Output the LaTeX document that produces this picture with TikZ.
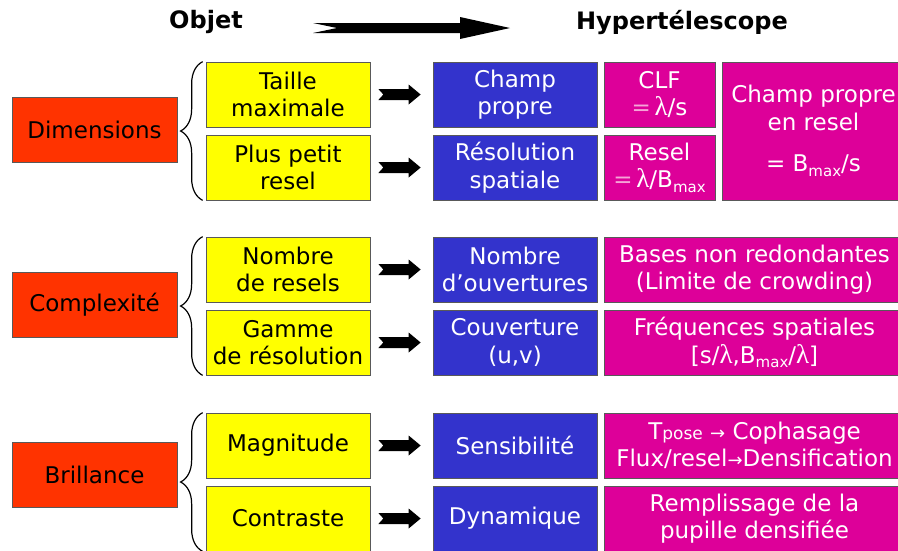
\documentclass[tikz,border=0pt]{standalone}
\usepackage{fontspec}
\setmainfont{DejaVu Sans}
\newfontfamily\lamfont{Liberation Serif}
\usetikzlibrary{decorations.pathreplacing,calc}
\definecolor{cred}{RGB}{255,51,0}
\definecolor{cyel}{RGB}{255,255,0}
\definecolor{cblue}{RGB}{51,51,204}
\definecolor{cmag}{RGB}{221,0,153}
\definecolor{cpale}{RGB}{245,165,215}
\newcommand\lam{{\lamfont\fontsize{27}{27}\selectfont λ}}
\newcommand\sbx[1]{\raisebox{-0.35ex}{\fontsize{15}{15}\selectfont #1}}
\newcommand\smallfont{\fontsize{18}{18}\selectfont}
% #1 start, #2 end, #3 half shaft, #4 half head, #5 head length, #6 notch
\newcommand\blockarrow[6]{%
  \fill let \p1=#1, \p2=#2 in
    (\x1,\y1+#3) -- (\x2-#5,\y1+#3) -- (\x2-#5,\y1+#4) -- (\x2,\y1)
    -- (\x2-#5,\y1-#4) -- (\x2-#5,\y1-#3) -- (\x1,\y1-#3) -- (\x1+#6,\y1) -- cycle;}
\begin{document}
\begin{tikzpicture}[x=1pt,y=-1pt,
  box/.style={draw=black!65, line width=0.7pt, minimum height=65pt, align=center,
    inner sep=0pt, font=\fontsize{23}{27.5}\selectfont},
  redbox/.style={box, fill=cred, minimum width=165pt},
  yelbox/.style={box, fill=cyel, minimum width=164pt},
  bluebox/.style={box, fill=cblue, text=white, minimum width=164pt},
  magbox/.style={box, fill=cmag, text=white},
  title/.style={font=\fontsize{24}{28}\selectfont\bfseries},
  brc/.style={decorate, decoration={brace, amplitude=22pt}, line width=1.2pt}]
\useasboundingbox (0,0) rectangle (898,550);
\clip (0,0) rectangle (898,550);
\fill[white] (0,0) rectangle (898,550);

% titles
\node[title] (tobj) at (206,22) {Objet};
\node[title] (thyp) at (682,22) {Hypertélescope};
\coordinate (ta) at (313,28);
\coordinate (tb) at (510,28);
\blockarrow{(ta)}{(tb)}{5pt}{11pt}{50pt}{24pt}

% red boxes
\node[redbox] (r1) at (94.5,129.5) {Dimensions};
\node[redbox] (r2) at (94.5,305) {Complexité};
\node[redbox] (r3) at (94.5,475) {Brillance};

% yellow boxes
\node[yelbox] (y1) at (288,94.5) {Taille\\maximale};
\node[yelbox] (y2) at (288,167.5) {Plus petit\\resel};
\node[yelbox] (y3) at (288,269.5) {Nombre\\de resels};
\node[yelbox] (y4) at (288,342.5) {Gamme\\de résolution};
\node[yelbox] (y5) at (288,445.5) {Magnitude};
\node[yelbox] (y6) at (288,518.5) {Contraste};

% blue boxes
\node[bluebox] (b1) at (515,94.5) {Champ\\propre};
\node[bluebox] (b2) at (515,167.5) {Résolution\\spatiale};
\node[bluebox] (b3) at (515,269.5) {Nombre\\d’ouvertures};
\node[bluebox] (b4) at (515,342.5) {Couverture\\(u,v)};
\node[bluebox] (b5) at (515,445.5) {Sensibilité};
\node[bluebox] (b6) at (515,518.5) {Dynamique};

% magenta boxes
\node[magbox, minimum width=111pt] (m1) at (659.5,94.5) {CLF\\{\color{cpale}=}\,\lam/s};
\node[magbox, minimum width=111pt] (m2) at (659.5,167.5) {Resel\\{\color{cpale}=}\,\lam/B\sbx{max}};
\node[magbox, minimum width=183pt, minimum height=138pt] (m3) at (813.5,131)
  {Champ propre\\en resel\\[14pt]= B\sbx{max}/s};
\node[magbox, minimum width=301pt] (m4) at (754.5,269.5) {Bases non redondantes\\(Limite de crowding)};
\node[magbox, minimum width=301pt] (m5) at (754.5,342.5) {Fréquences spatiales\\{}[s/\lam,B\sbx{max}/\lam]};
\node[magbox, minimum width=301pt] (m6) at (754.5,445.5)
  {T{\fontsize{17}{17}\selectfont pose} {\smallfont →} Cophasage\\Flux/resel{\smallfont →}Densification};
\node[magbox, minimum width=301pt] (m7) at (754.5,518.5) {Remplissage de la\\pupille densifiée};

% braces
\draw[brc] ($(y2.south west)+(-3,0)$) -- ($(y1.north west)+(-3,0)$);
\draw[brc] ($(y4.south west)+(-3,0)$) -- ($(y3.north west)+(-3,0)$);
\draw[brc] ($(y6.south west)+(-3,0)$) -- ($(y5.north west)+(-3,0)$);

% arrows
\foreach \i in {1,...,6}{
  \blockarrow{($(y\i.east)+(8,0)$)}{($(b\i.west)+(-12,0)$)}{5.5pt}{10pt}{12pt}{5pt}
}
\end{tikzpicture}
\end{document}
